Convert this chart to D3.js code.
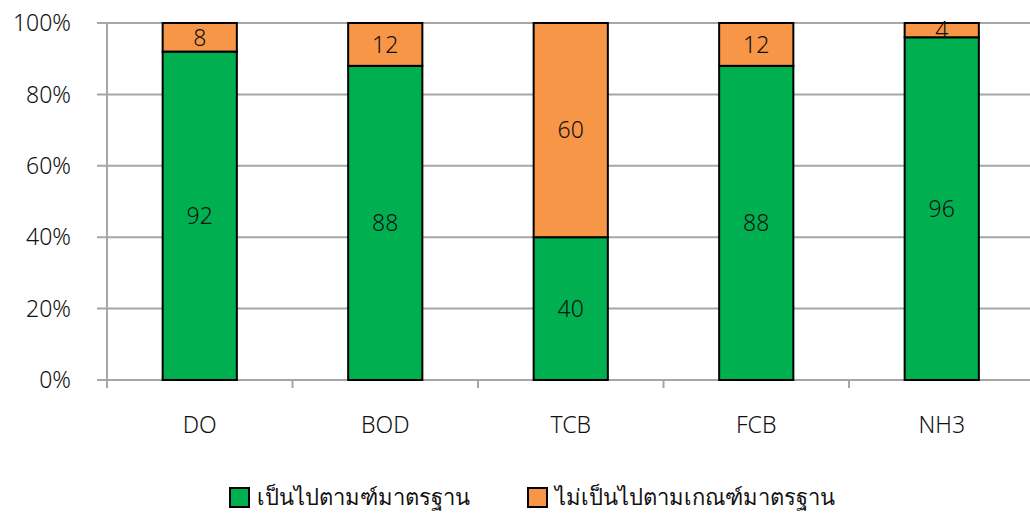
<!DOCTYPE html>
<html><head><meta charset="utf-8">
<script src="https://cdn.jsdelivr.net/npm/d3@7"></script>
<style>body{margin:0;background:#fff}svg{display:block}text{font-family:"Noto Sans","DejaVu Sans",sans-serif;fill:#111;font-weight:300}</style>
</head><body><svg id="c" width="1030" height="513"></svg>
<script>
const categories = ["DO","BOD","TCB","FCB","NH3"];
const passValues = [92,88,40,88,96];
const failValues = [8,12,60,12,4];
const seriesNames = ["เป็นไปตามฑ์มาตรฐาน","ไม่เป็นไปตามเกณฑ์มาตรฐาน"];
const yTicks = [0,20,40,60,80,100];
const colors = ["#00B050","#F79646"];

const svg = d3.select("#c");
const x = d3.scaleBand().domain(categories).range([107,1034.5]).paddingInner(0).paddingOuter(0);
const y = d3.scaleLinear().domain([0,100]).range([380,23]);
const bw = x.bandwidth()*0.4;

svg.append("g").selectAll("line").data(yTicks).join("line")
  .attr("x1",97).attr("x2",1030).attr("y1",d=>y(d)).attr("y2",d=>y(d))
  .attr("stroke","#a6a6a6").attr("stroke-width",2);
svg.append("line").attr("x1",107).attr("x2",107).attr("y1",23).attr("y2",388).attr("stroke","#a6a6a6").attr("stroke-width",2);
const bounds = categories.map(c=>x(c)).concat([x(categories[4])+x.bandwidth()]);
svg.append("g").selectAll("line").data(bounds.slice(1)).join("line")
  .attr("x1",d=>d).attr("x2",d=>d).attr("y1",380).attr("y2",388).attr("stroke","#a6a6a6").attr("stroke-width",2);

svg.append("g").selectAll("text").data(yTicks).join("text")
  .attr("x",71).attr("y",d=>y(d)).attr("dy","0.36em").attr("text-anchor","end")
  .attr("font-size",23).text(d=>d+"%");

const stackData = categories.map((c,i)=>({c, pass:passValues[i], fail:failValues[i]}));
const stack = d3.stack().keys(["pass","fail"])(stackData);
stack.forEach((s,si)=>{
  const g = svg.append("g");
  g.selectAll("rect").data(s).join("rect")
    .attr("x",d=>x(d.data.c)+x.bandwidth()/2-bw/2).attr("width",bw)
    .attr("y",d=>y(d[1])).attr("height",d=>y(d[0])-y(d[1]))
    .attr("fill",colors[si]).attr("stroke","#000").attr("stroke-width",2);
  g.selectAll("text").data(s).join("text")
    .attr("x",d=>x(d.data.c)+x.bandwidth()/2).attr("y",d=>(y(d[0])+y(d[1]))/2)
    .attr("dy","0.36em").attr("text-anchor","middle").attr("font-size",23)
    .text(d=>d[1]-d[0]);
});

svg.append("g").selectAll("text").data(categories).join("text")
  .attr("x",d=>x(d)+x.bandwidth()/2).attr("y",425).attr("dy","0.36em")
  .attr("text-anchor","middle").attr("font-size",23).text(d=>d);

const legX = [230,528];
seriesNames.forEach((n,i)=>{
  svg.append("rect").attr("x",legX[i]).attr("y",488).attr("width",19).attr("height",19)
    .attr("fill",colors[i]).attr("stroke","#000").attr("stroke-width",2);
  svg.append("text").attr("x",legX[i]+27).attr("y",497).attr("dy","0.36em").attr("font-size",22).text(n);
});
</script></body></html>
